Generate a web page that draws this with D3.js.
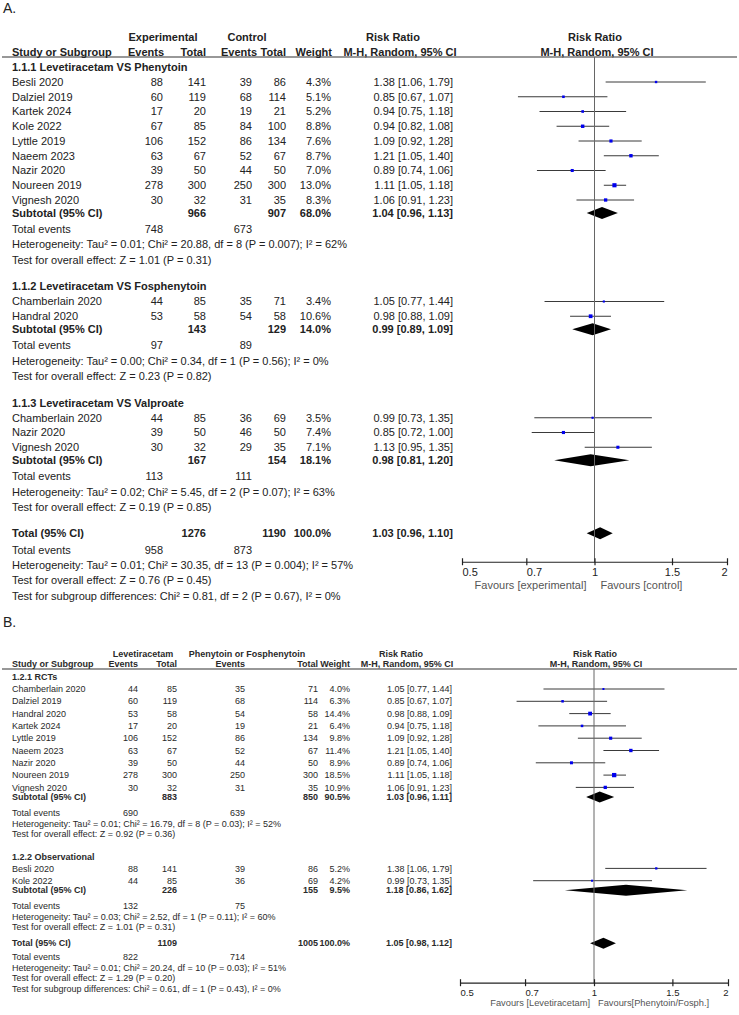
<!DOCTYPE html>
<html><head><meta charset="utf-8">
<script src="https://cdn.jsdelivr.net/npm/d3@7"></script>
<style>body{margin:0;background:#fff}svg{display:block}</style>
</head><body>
<script>
// ---------------- DATA: Panel A ----------------
const A_groups = ["1.1.1 Levetiracetam VS Phenytoin","1.1.2 Levetiracetam VS Fosphenytoin","1.1.3 Levetiracetam VS Valproate"];
const A_study = ["Besli 2020","Dalziel 2019","Kartek 2024","Kole 2022","Lyttle 2019","Naeem 2023","Nazir 2020","Noureen 2019","Vignesh 2020","Chamberlain 2020","Handral 2020","Chamberlain 2020","Nazir 2020","Vignesh 2020"];
const A_group = [0,0,0,0,0,0,0,0,0,1,1,2,2,2];
const A_expEvents = [88,60,17,67,106,63,39,278,30,44,53,44,39,30];
const A_expTotal = [141,119,20,85,152,67,50,300,32,85,58,85,50,32];
const A_ctlEvents = [39,68,19,84,86,52,44,250,31,35,54,36,46,29];
const A_ctlTotal = [86,114,21,100,134,67,50,300,35,71,58,69,50,35];
const A_weight = [4.3,5.1,5.2,8.8,7.6,8.7,7.0,13.0,8.3,3.4,10.6,3.5,7.4,7.1];
const A_rr = [1.38,0.85,0.94,0.94,1.09,1.21,0.89,1.11,1.06,1.05,0.98,0.99,0.85,1.13];
const A_lo = [1.06,0.67,0.75,0.82,0.92,1.05,0.74,1.05,0.91,0.77,0.88,0.73,0.72,0.95];
const A_hi = [1.79,1.07,1.18,1.08,1.28,1.40,1.06,1.18,1.23,1.44,1.09,1.35,1.00,1.35];
const A_subExpTotal = [966,143,167];
const A_subCtlTotal = [907,129,154];
const A_subWeight = [68.0,14.0,18.1];
const A_subRR = [1.04,0.99,0.98];
const A_subLo = [0.96,0.89,0.81];
const A_subHi = [1.13,1.09,1.20];
const A_subExpEvents = [748,97,113];
const A_subCtlEvents = [673,89,111];
const A_subHet = ["Heterogeneity: Tau² = 0.01; Chi² = 20.88, df = 8 (P = 0.007); I² = 62%","Heterogeneity: Tau² = 0.00; Chi² = 0.34, df = 1 (P = 0.56); I² = 0%","Heterogeneity: Tau² = 0.02; Chi² = 5.45, df = 2 (P = 0.07); I² = 63%"];
const A_subTest = ["Test for overall effect: Z = 1.01 (P = 0.31)","Test for overall effect: Z = 0.23 (P = 0.82)","Test for overall effect: Z = 0.19 (P = 0.85)"];
const A_total = {expTotal:1276, ctlTotal:1190, weight:100.0, rr:1.03, lo:0.96, hi:1.10, expEvents:958, ctlEvents:873};
const A_totalText = ["Heterogeneity: Tau² = 0.01; Chi² = 30.35, df = 13 (P = 0.004); I² = 57%","Test for overall effect: Z = 0.76 (P = 0.45)","Test for subgroup differences: Chi² = 0.81, df = 2 (P = 0.67), I² = 0%"];
const A_headers = {grp1:"Experimental", grp2:"Control", favL:"Favours [experimental]", favR:"Favours [control]"};

// ---------------- DATA: Panel B ----------------
const B_groups = ["1.2.1 RCTs","1.2.2 Observational"];
const B_study = ["Chamberlain 2020","Dalziel 2019","Handral 2020","Kartek 2024","Lyttle 2019","Naeem 2023","Nazir 2020","Noureen 2019","Vignesh 2020","Besli 2020","Kole 2022"];
const B_group = [0,0,0,0,0,0,0,0,0,1,1];
const B_expEvents = [44,60,53,17,106,63,39,278,30,88,44];
const B_expTotal = [85,119,58,20,152,67,50,300,32,141,85];
const B_ctlEvents = [35,68,54,19,86,52,44,250,31,39,36];
const B_ctlTotal = [71,114,58,21,134,67,50,300,35,86,69];
const B_weight = [4.0,6.3,14.4,6.4,9.8,11.4,8.9,18.5,10.9,5.2,4.2];
const B_rr = [1.05,0.85,0.98,0.94,1.09,1.21,0.89,1.11,1.06,1.38,0.99];
const B_lo = [0.77,0.67,0.88,0.75,0.92,1.05,0.74,1.05,0.91,1.06,0.73];
const B_hi = [1.44,1.07,1.09,1.18,1.28,1.40,1.06,1.18,1.23,1.79,1.35];
const B_subExpTotal = [883,226];
const B_subCtlTotal = [850,155];
const B_subWeight = [90.5,9.5];
const B_subRR = [1.03,1.18];
const B_subLo = [0.96,0.86];
const B_subHi = [1.11,1.62];
const B_subExpEvents = [690,132];
const B_subCtlEvents = [639,75];
const B_subHet = ["Heterogeneity: Tau² = 0.01; Chi² = 16.79, df = 8 (P = 0.03); I² = 52%","Heterogeneity: Tau² = 0.03; Chi² = 2.52, df = 1 (P = 0.11); I² = 60%"];
const B_subTest = ["Test for overall effect: Z = 0.92 (P = 0.36)","Test for overall effect: Z = 1.01 (P = 0.31)"];
const B_total = {expTotal:1109, ctlTotal:1005, weight:100.0, rr:1.05, lo:0.98, hi:1.12, expEvents:822, ctlEvents:714};
const B_totalText = ["Heterogeneity: Tau² = 0.01; Chi² = 20.24, df = 10 (P = 0.03); I² = 51%","Test for overall effect: Z = 1.29 (P = 0.20)","Test for subgroup differences: Chi² = 0.61, df = 1 (P = 0.43), I² = 0%"];
const B_headers = {grp1:"Levetiracetam", grp2:"Phenytoin or Fosphenytoin", favL:"Favours [Levetiracetam]", favR:"Favours[Phenytoin/Fosph.]"};

// axis
const tickValues = [0.5,0.7,1,1.5,2];
const tickLabels = ["0.5","0.7","1","1.5","2"];
const xDomain = [0.5,2];

// ---------------- DRAW ----------------
const W = 739, H = 1015;
const svg = d3.select("body").append("svg").attr("width",W).attr("height",H)
  .style("font-family","'Liberation Sans', Arial, Helvetica, sans-serif");

function pack(p){
  return p;
}
const fmtW = v => v.toFixed(1) + "%";
const fmtRR = (r,l,h) => r.toFixed(2)+" ["+l.toFixed(2)+", "+h.toFixed(2)+"]";

function drawPanel(d, L){
  const g = svg.append("g").attr("fill", L.color).style("font-size", L.fs+"px");
  const x = d3.scaleLog().domain(xDomain).range(L.xr);
  const txt = (s, xx, yy, anchor, bold, extra) => {
    const t = g.append("text").attr("x",xx).attr("y",yy).attr("dy","0.35em")
      .attr("text-anchor",anchor||"start").text(s);
    if (bold) t.attr("font-weight","bold");
    if (extra) extra(t);
    return t;
  };
  // panel label
  g.append("text").attr("x",3).attr("y",L.labelY).attr("dy","0.35em").style("font-size","14px")
    .attr("fill","#222").text(L.label);
  // headers
  const c = L.cols, hc = L.hcols;
  txt(d.headers.grp1, hc.grp1, L.h1, "middle", true);
  txt(d.headers.grp2, hc.grp2, L.h1, "middle", true);
  txt("Risk Ratio", hc.rr1, L.h1, "middle", true);
  txt("Risk Ratio", hc.rr2, L.h1, "middle", true);
  txt("Study or Subgroup", c.study, L.h2, "start", true);
  txt("Events", hc.ev1, L.h2, "end", true);
  txt("Total", hc.tot1, L.h2, "end", true);
  txt("Events", hc.ev2, L.h2, "end", true);
  txt("Total", hc.tot2, L.h2, "end", true);
  txt("Weight", hc.w, L.h2, "end", true);
  txt("M-H, Random, 95% CI", hc.mh1, L.h2, "middle", true);
  txt("M-H, Random, 95% CI", hc.mh2, L.h2, "middle", true);
  g.append("line").attr("x1",2).attr("x2",737).attr("y1",L.rule).attr("y2",L.rule)
    .attr("stroke","#333").attr("stroke-width",1.2);

  // rows
  let y = L.y0;
  const diamonds = [];
  d.groups.forEach((gname, gi) => {
    if (gi > 0) y += L.testToHead;
    txt(gname, c.study, y, "start", true);
    const idx = d.study.map((s,i)=>i).filter(i=>d.group[i]===gi);
    idx.forEach((i,k) => {
      y += (k===0 ? L.headToStudy : L.studyStep);
      txt(d.study[i], c.study, y);
      txt(d.expEvents[i], c.ev1, y, "end");
      txt(d.expTotal[i], c.tot1, y, "end");
      txt(d.ctlEvents[i], c.ev2, y, "end");
      txt(d.ctlTotal[i], c.tot2, y, "end");
      txt(fmtW(d.weight[i]), c.w, y, "end");
      txt(fmtRR(d.rr[i],d.lo[i],d.hi[i]), c.rr, y, "end");
      g.append("line").attr("x1",x(d.lo[i])).attr("x2",x(d.hi[i])).attr("y1",y).attr("y2",y)
        .attr("stroke","#3a3a3a").attr("stroke-width",1);
      const s = Math.max(2, Math.sqrt(d.weight[i])*L.sq);
      g.append("rect").attr("x",x(d.rr[i])-s/2).attr("y",y-s/2).attr("width",s).attr("height",s)
        .attr("fill","#0000ee");
    });
    y += L.studyToSub;
    txt("Subtotal (95% CI)", c.study, y, "start", true);
    txt(d.subExpTotal[gi], c.tot1, y, "end", true);
    txt(d.subCtlTotal[gi], c.tot2, y, "end", true);
    txt(fmtW(d.subWeight[gi]), c.w, y, "end", true);
    txt(fmtRR(d.subRR[gi],d.subLo[gi],d.subHi[gi]), c.rr, y, "end", true);
    diamonds.push({y, rr:d.subRR[gi], lo:d.subLo[gi], hi:d.subHi[gi]});
    y += L.subToTE;
    txt("Total events", c.study, y);
    txt(d.subExpEvents[gi], c.ev1, y, "end");
    txt(d.subCtlEvents[gi], c.ev2, y, "end");
    y += L.teToHet; txt(d.subHet[gi], c.study, y);
    y += L.hetToTest; txt(d.subTest[gi], c.study, y);
  });
  y += L.testToTotal;
  const totY = y;
  txt("Total (95% CI)", c.study, y, "start", true);
  txt(d.total.expTotal, c.tot1, y, "end", true);
  txt(d.total.ctlTotal, c.tot2, y, "end", true);
  txt(fmtW(d.total.weight), c.w, y, "end", true);
  txt(fmtRR(d.total.rr,d.total.lo,d.total.hi), c.rr, y, "end", true);
  diamonds.push({y, rr:d.total.rr, lo:d.total.lo, hi:d.total.hi});
  y += L.totalToTE;
  txt("Total events", c.study, y);
  txt(d.total.expEvents, c.ev1, y, "end");
  txt(d.total.ctlEvents, c.ev2, y, "end");
  d.totalText.forEach(t => { y += L.lastStep; txt(t, c.study, y); });

  // diamonds
  diamonds.forEach(dm => {
    const h = L.dh;
    g.append("path").attr("d", d3.line()([[x(dm.lo),dm.y],[x(dm.rr),dm.y-h],[x(dm.hi),dm.y],[x(dm.rr),dm.y+h]])+"Z")
      .attr("fill","#000");
  });

  // axis
  const axisY = totY + L.totalToAxis;
  g.append("line").attr("x1",x(1)).attr("x2",x(1)).attr("y1",L.rule).attr("y2",axisY)
    .attr("stroke","#666").attr("stroke-width",1);
  const ax = g.append("g").attr("transform","translate(0,"+axisY+")")
    .call(d3.axisBottom(x).tickValues(tickValues).tickFormat((v,i)=>tickLabels[i]).tickSize(3).tickSizeOuter(0));
  ax.select(".domain").attr("stroke","#222").attr("stroke-width",1.2).attr("d","M"+L.xr[0]+",0H"+L.xr[1]);
  ax.selectAll(".tick line").attr("y1",-4).attr("y2",3).attr("stroke","#222").attr("stroke-width",1.2);
  ax.selectAll(".tick text").attr("y",L.tickLabelDy).attr("dy","0.35em")
    .style("font-size",L.tickFs+"px").attr("fill","#222").style("font-family","'Liberation Sans', Arial, sans-serif")
    .attr("text-anchor",(v,i)=>L.tickAnchor[i]);
  g.append("text").attr("x",x(1)-L.favGapL).attr("y",axisY+L.favDy).attr("dy","0.35em")
    .attr("text-anchor","end").attr("fill","#555").style("font-size",L.favFs+"px").text(d.headers.favL);
  g.append("text").attr("x",x(1)+L.favGapR).attr("y",axisY+L.favDy).attr("dy","0.35em")
    .attr("text-anchor","start").attr("fill","#555").style("font-size",L.favFs+"px").text(d.headers.favR);
}

drawPanel({groups:A_groups, study:A_study, group:A_group, expEvents:A_expEvents, expTotal:A_expTotal,
  ctlEvents:A_ctlEvents, ctlTotal:A_ctlTotal, weight:A_weight, rr:A_rr, lo:A_lo, hi:A_hi,
  subExpTotal:A_subExpTotal, subCtlTotal:A_subCtlTotal, subWeight:A_subWeight, subRR:A_subRR,
  subLo:A_subLo, subHi:A_subHi, subExpEvents:A_subExpEvents, subCtlEvents:A_subCtlEvents,
  subHet:A_subHet, subTest:A_subTest, total:A_total, totalText:A_totalText, headers:A_headers},
 {label:"A.", labelY:8, color:"#222", fs:11, xr:[462,727], sq:1.15, dh:6,
  cols:{study:12, ev1:163, tot1:206, ev2:252, tot2:286, w:331, rr:453},
  hcols:{grp1:163, grp2:247, rr1:393, rr2:595, ev1:164, tot1:206, ev2:257, tot2:286, w:332, mh1:400, mh2:597},
  h1:37, h2:52, rule:57, y0:67, headToStudy:15, studyStep:14.75, studyToSub:13, subToTE:16,
  teToHet:15.5, hetToTest:15.5, testToHead:26.5, testToTotal:26, totalToTE:16.5, lastStep:15.3,
  totalToAxis:29, tickLabelDy:10, tickFs:11, tickAnchor:["start","start","middle","middle","end"],
  favGapL:8, favGapR:6, favDy:23, favFs:11});

drawPanel({groups:B_groups, study:B_study, group:B_group, expEvents:B_expEvents, expTotal:B_expTotal,
  ctlEvents:B_ctlEvents, ctlTotal:B_ctlTotal, weight:B_weight, rr:B_rr, lo:B_lo, hi:B_hi,
  subExpTotal:B_subExpTotal, subCtlTotal:B_subCtlTotal, subWeight:B_subWeight, subRR:B_subRR,
  subLo:B_subLo, subHi:B_subHi, subExpEvents:B_subExpEvents, subCtlEvents:B_subCtlEvents,
  subHet:B_subHet, subTest:B_subTest, total:B_total, totalText:B_totalText, headers:B_headers},
 {label:"B.", labelY:622, color:"#2a2a2a", fs:9, xr:[460,728], sq:1.0, dh:5.5,
  cols:{study:12, ev1:138, tot1:177, ev2:245, tot2:318, w:350, rr:452},
  hcols:{grp1:143, grp2:247, rr1:401, rr2:595, ev1:138, tot1:177, ev2:245, tot2:318, w:350, mh1:407, mh2:596},
  h1:654, h2:664, rule:669, y0:677, headToStudy:12, studyStep:12.3, studyToSub:9.5, subToTE:15.5,
  teToHet:11, hetToTest:10, testToHead:23, testToTotal:16.5, totalToTE:14, lastStep:10.5,
  totalToAxis:40, tickLabelDy:9, tickFs:9.5, tickAnchor:["start","start","middle","middle","end"],
  favGapL:4, favGapR:4, favDy:20, favFs:9.3});
</script>
</body></html>
